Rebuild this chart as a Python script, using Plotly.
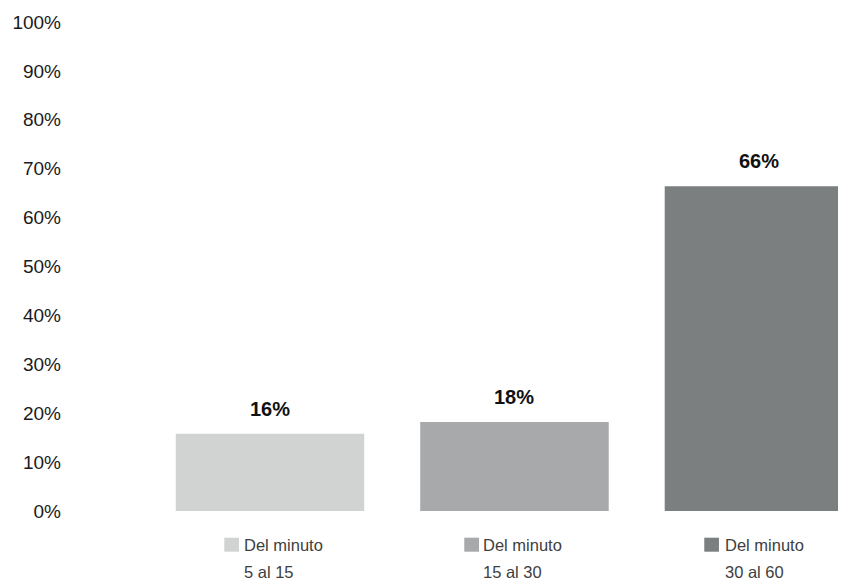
import plotly.graph_objects as go

categories = ["Del minuto<br>5 al 15", "Del minuto<br>15 al 30", "Del minuto<br>30 al 60"]
values = [15.8, 18.2, 66.4]
value_labels = [f"{round(v)}%" for v in values]
colors = ["#d1d3d2", "#a7a9aa", "#7c7f80"]
y_ticks = list(range(0, 101, 10))
y_ticklabels = [f"{v}%" for v in y_ticks]

# style: pixel offsets (relative to bar centre) of the legend-like labels
text_offsets = [-27.6, -33.0, -36.0]
square_right = [-31.0, -35.5, -40.0]
square_size = 14.7

FONT = "Liberation Sans, Arial, sans-serif"

x_range = [-0.8507, 2.356]
span = x_range[1] - x_range[0]

fig = go.Figure()
for i, (v, c) in enumerate(zip(values, colors)):
    fig.add_trace(go.Bar(
        x=[i], y=[v], marker_color=c, marker_line_width=0,
        width=0.771, showlegend=False, hoverinfo="skip",
    ))
    fig.add_annotation(
        x=i, y=v, text=f"<b>{value_labels[i]}</b>", showarrow=False,
        yanchor="bottom", yshift=12,
        font=dict(family=FONT, size=20, color="#111111"),
    )
    # category label
    lines = categories[i].split("<br>")
    label = "<br>".join(f"<span style='font-size:16.5px'>{s}</span>" for s in lines)
    fig.add_annotation(
        x=i, y=0, xref="x", yref="y", text=label,
        showarrow=False, align="left", xanchor="left", yanchor="top",
        xshift=text_offsets[i], yshift=-23,
        font=dict(family=FONT, size=21, color="#404040"),
    )
    # colour key square
    fig.add_shape(
        type="rect", xref="paper", yref="paper",
        xsizemode="pixel", ysizemode="pixel",
        xanchor=(i - x_range[0]) / span, yanchor=0,
        x0=square_right[i] - square_size, x1=square_right[i],
        y0=-40.7, y1=-26.7,
        fillcolor=c, line=dict(width=0), layer="above",
    )

fig.update_layout(
    width=838, height=573,
    margin=dict(l=54, r=0, t=14, b=70),
    plot_bgcolor="white", paper_bgcolor="white",
    showlegend=False,
    xaxis=dict(range=x_range, showticklabels=False, showgrid=False,
               zeroline=False, showline=False, ticks="", automargin=False),
    yaxis=dict(range=[0, 100], tickvals=y_ticks, ticktext=y_ticklabels,
               showgrid=False, zeroline=False, showline=False, ticks="",
               tickfont=dict(family=FONT, size=19, color="#1a1a1a"),
               automargin=False),
)

fig.write_html("out.html")
